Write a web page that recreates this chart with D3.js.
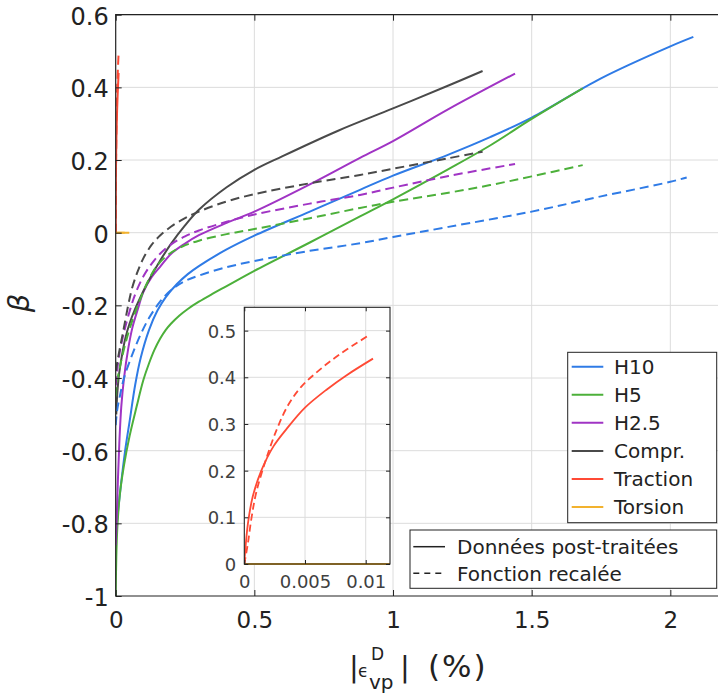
<!DOCTYPE html>
<html><head><meta charset="utf-8">
<script src="https://cdn.jsdelivr.net/npm/d3@7"></script>
<style>body{margin:0;background:#fff}svg{display:block}</style>
</head><body><svg id="c" width="718" height="695"></svg>
<script>
// ---------- tick values / labels ----------
const xTicks = [0, 0.5, 1, 1.5, 2];
const xTickLabels = ["0", "0.5", "1", "1.5", "2"];
const yTicks = [0.6, 0.4, 0.2, 0, -0.2, -0.4, -0.6, -0.8, -1];
const yTickLabels = ["0.6", "0.4", "0.2", "0", "-0.2", "-0.4", "-0.6", "-0.8", "-1"];
const insetXTicks = [0, 0.005, 0.01];
const insetXTickLabels = ["0", "0.005", "0.01"];
const insetYTicks = [0, 0.1, 0.2, 0.3, 0.4, 0.5];
const insetYTickLabels = ["0", "0.1", "0.2", "0.3", "0.4", "0.5"];

// ---------- legend ----------
const seriesNames = ["H10", "H5", "H2.5", "Compr.", "Traction", "Torsion"];
const seriesColors = ["#2f7be6", "#4cb03a", "#a034c4", "#4a4a4a", "#ff4a35", "#f2b22e"];
const styleNames = ["Données post-traitées", "Fonction recalée"];

// ---------- data: [|eps_vp^D| (%), beta] ----------
const h10Data = [[0,-0.83],[0.004,-0.8],[0.015,-0.72],[0.034,-0.6],[0.05,-0.52],[0.07,-0.42],[0.09,-0.345],[0.12,-0.268],[0.15,-0.215],[0.18,-0.178],[0.22,-0.142],[0.26,-0.114],[0.3,-0.092],[0.4,-0.046],[0.5,-0.008],[0.7,0.058],[0.881,0.118],[1.0,0.157],[1.2,0.215],[1.35,0.263],[1.5,0.317],[1.75,0.425],[2.0,0.513],[2.083,0.539]];
const h10Fit = [[0,-0.53],[0.005,-0.49],[0.015,-0.45],[0.03,-0.4],[0.06,-0.335],[0.09,-0.28],[0.12,-0.235],[0.16,-0.19],[0.2,-0.158],[0.25,-0.133],[0.3,-0.118],[0.4,-0.095],[0.5,-0.078],[0.7,-0.05],[0.881,-0.029],[1.0,-0.012],[1.2,0.016],[1.5,0.058],[1.75,0.1],[2.0,0.14],[2.059,0.152]];
const h5Data = [[0,-1.0],[0.002,-0.9],[0.006,-0.81],[0.015,-0.72],[0.03,-0.64],[0.05,-0.56],[0.075,-0.48],[0.1,-0.405],[0.12,-0.36],[0.14,-0.322],[0.16,-0.292],[0.18,-0.268],[0.2,-0.25],[0.23,-0.228],[0.26,-0.21],[0.3,-0.19],[0.35,-0.168],[0.4,-0.147],[0.5,-0.105],[0.7,-0.027],[0.881,0.045],[1.0,0.092],[1.2,0.175],[1.35,0.24],[1.5,0.313],[1.684,0.397]];
const h5Fit = [[0,-0.45],[0.005,-0.41],[0.015,-0.37],[0.03,-0.32],[0.05,-0.265],[0.07,-0.22],[0.09,-0.18],[0.12,-0.128],[0.15,-0.09],[0.19,-0.06],[0.24,-0.038],[0.3,-0.022],[0.4,-0.004],[0.5,0.01],[0.7,0.04],[0.881,0.068],[1.0,0.085],[1.2,0.11],[1.35,0.131],[1.5,0.155],[1.684,0.186]];
const h25Data = [[0,-0.86],[0.004,-0.78],[0.008,-0.68],[0.013,-0.58],[0.02,-0.48],[0.03,-0.4],[0.045,-0.32],[0.06,-0.262],[0.08,-0.21],[0.1,-0.163],[0.13,-0.122],[0.16,-0.094],[0.2,-0.058],[0.25,-0.03],[0.3,-0.007],[0.4,0.027],[0.5,0.058],[0.7,0.133],[0.881,0.206],[1.0,0.252],[1.2,0.34],[1.44,0.438]];
const h25Fit = [[0,-0.42],[0.005,-0.38],[0.012,-0.34],[0.025,-0.29],[0.045,-0.23],[0.07,-0.17],[0.1,-0.12],[0.13,-0.085],[0.16,-0.058],[0.2,-0.032],[0.25,-0.01],[0.3,0.006],[0.4,0.03],[0.5,0.05],[0.7,0.08],[0.881,0.104],[1.0,0.124],[1.2,0.156],[1.44,0.189]];
const comprData = [[0.002,-0.5],[0.006,-0.44],[0.012,-0.39],[0.022,-0.34],[0.035,-0.29],[0.05,-0.25],[0.07,-0.21],[0.09,-0.176],[0.12,-0.13],[0.16,-0.077],[0.2,-0.03],[0.25,0.02],[0.3,0.063],[0.4,0.125],[0.5,0.173],[0.6,0.21],[0.8,0.28],[1.0,0.342],[1.2,0.405],[1.323,0.445]];
const comprFit = [[0.001,-0.38],[0.005,-0.36],[0.012,-0.33],[0.025,-0.28],[0.045,-0.2],[0.06,-0.15],[0.08,-0.105],[0.1,-0.07],[0.13,-0.033],[0.16,-0.008],[0.2,0.017],[0.25,0.04],[0.3,0.058],[0.4,0.086],[0.5,0.106],[0.7,0.136],[0.881,0.159],[1.0,0.176],[1.2,0.205],[1.323,0.223]];
const tractionData = [[0,0],[0.00005,0.02],[0.0003,0.087],[0.0007,0.145],[0.0014,0.2],[0.0024,0.252],[0.0035,0.29],[0.005,0.335],[0.0068,0.374],[0.0084,0.404],[0.0106,0.44]];
const tractionFit = [[0,0],[0.0003,0.045],[0.0006,0.1],[0.001,0.155],[0.0018,0.225],[0.0027,0.29],[0.0036,0.34],[0.0047,0.38],[0.0062,0.416],[0.0079,0.45],[0.0102,0.489]];
const torsionData = [[0,0],[0.049,0]];
const torsionFit = [[0,0],[0.049,0]];

const dataSets = [h10Data, h5Data, h25Data, comprData, tractionData, torsionData];
const fitSets = [h10Fit, h5Fit, h25Fit, comprFit, tractionFit, torsionFit];

// ---------- layout ----------
const FONT = "DejaVu Sans";
const TXT = "#222222";
const GRID = "#dcdcdc";
const svg = d3.select("#c");
const L = 115.7, T = 14.7, B = 596, R = 725.8;
const x = d3.scaleLinear().domain([0, 2.2]).range([L, R]);
const y = d3.scaleLinear().domain([-1, 0.6]).range([B, T]);

svg.append("defs").append("clipPath").attr("id", "clipMain")
  .append("rect").attr("x", L).attr("y", T).attr("width", R - L).attr("height", B - T);

// grid
const g = svg.append("g");
g.selectAll(".gx").data(xTicks.slice(1)).enter().append("line")
  .attr("x1", d => x(d)).attr("x2", d => x(d)).attr("y1", T).attr("y2", B)
  .attr("stroke", GRID).attr("stroke-width", 1);
g.selectAll(".gy").data(yTicks.slice(0, -1)).enter().append("line")
  .attr("x1", L).attr("x2", R).attr("y1", d => y(d)).attr("y2", d => y(d))
  .attr("stroke", GRID).attr("stroke-width", 1);

// lines
const curve = d3.curveCatmullRom.alpha(0.5);
const line = d3.line().x(d => x(d[0])).y(d => y(d[1])).curve(curve);
const lg = svg.append("g").attr("clip-path", "url(#clipMain)");
dataSets.forEach((ds, i) => {
  lg.append("path").attr("d", line(ds)).attr("fill", "none")
    .attr("stroke", seriesColors[i]).attr("stroke-width", 2);
});
fitSets.forEach((ds, i) => {
  lg.append("path").attr("d", line(ds)).attr("fill", "none")
    .attr("stroke", seriesColors[i]).attr("stroke-width", 2).attr("stroke-dasharray", "9,5");
});

// axes
function styleAxis(sel) {
  sel.select(".domain").remove();
  sel.selectAll(".tick line").attr("stroke", TXT);
  sel.selectAll("text").attr("fill", TXT).attr("font-family", FONT);
}
const xAxis = svg.append("g").attr("transform", `translate(0,${B})`)
  .call(d3.axisBottom(x).tickValues(xTicks).tickFormat((d, i) => xTickLabels[i])
    .tickSizeInner(-6).tickSizeOuter(0).tickPadding(16));
styleAxis(xAxis); xAxis.selectAll("text").attr("font-size", 23);
const xTop = svg.append("g").attr("transform", `translate(0,${T})`)
  .call(d3.axisTop(x).tickValues(xTicks).tickFormat("").tickSizeInner(-6).tickSizeOuter(0));
styleAxis(xTop);
const yAxis = svg.append("g").attr("transform", `translate(${L},0)`)
  .call(d3.axisLeft(y).tickValues(yTicks).tickFormat((d, i) => yTickLabels[i])
    .tickSizeInner(-6).tickSizeOuter(0).tickPadding(7));
styleAxis(yAxis); yAxis.selectAll("text").attr("font-size", 24).attr("dy", "0.4em");

svg.append("path").attr("d", `M${R},${B}H${L}V${T}H${R}`).attr("fill", "none")
  .attr("stroke", TXT).attr("stroke-width", 1.2);

// axis labels
svg.append("text").attr("transform", "translate(29,303) rotate(-90)")
  .attr("text-anchor", "middle").attr("font-family", FONT).attr("font-style", "italic")
  .attr("font-size", 29).attr("fill", TXT).text("β");
const xl = svg.append("g").attr("font-family", FONT).attr("fill", TXT);
xl.append("text").attr("x", 349).attr("y", 677).attr("font-size", 29).text("|");
xl.append("text").attr("x", 358).attr("y", 677).attr("font-size", 17).text("ϵ");
xl.append("text").attr("x", 371).attr("y", 660).attr("font-size", 17).text("D");
xl.append("text").attr("x", 369).attr("y", 689).attr("font-size", 20).text("vp");
xl.append("text").attr("x", 400).attr("y", 677).attr("font-size", 29).text("|");
xl.append("text").attr("x", 428).attr("y", 677).attr("font-size", 31).attr("letter-spacing", 2).text("(%)");

// ---------- inset ----------
const iL = 244.3, iR = 390, iT = 307.3, iB = 564;
const ix = d3.scaleLinear().domain([0, 0.012]).range([iL, iR]);
const iy = d3.scaleLinear().domain([0, 0.55]).range([iB, iT]);
svg.select("defs").append("clipPath").attr("id", "clipInset")
  .append("rect").attr("x", iL).attr("y", iT - 1).attr("width", iR - iL).attr("height", iB - iT + 2);
svg.append("rect").attr("x", iL).attr("y", iT).attr("width", iR - iL).attr("height", iB - iT).attr("fill", "#fff");
const ig = svg.append("g");
ig.selectAll(".igx").data(insetXTicks.slice(1)).enter().append("line")
  .attr("x1", d => ix(d)).attr("x2", d => ix(d)).attr("y1", iT).attr("y2", iB).attr("stroke", GRID);
ig.selectAll(".igy").data(insetYTicks.slice(1)).enter().append("line")
  .attr("x1", iL).attr("x2", iR).attr("y1", d => iy(d)).attr("y2", d => iy(d)).attr("stroke", GRID);
const iline = d3.line().x(d => ix(d[0])).y(d => iy(d[1])).curve(curve);
const ilg = svg.append("g").attr("clip-path", "url(#clipInset)");
[4, 5].forEach(i => {
  ilg.append("path").attr("d", iline(dataSets[i])).attr("fill", "none")
    .attr("stroke", seriesColors[i]).attr("stroke-width", 1.8);
  ilg.append("path").attr("d", iline(fitSets[i])).attr("fill", "none")
    .attr("stroke", seriesColors[i]).attr("stroke-width", 1.8).attr("stroke-dasharray", "7,4");
});
const ixAxis = svg.append("g").attr("transform", `translate(0,${iB})`)
  .call(d3.axisBottom(ix).tickValues(insetXTicks).tickFormat((d, i) => insetXTickLabels[i])
    .tickSizeInner(-4).tickSizeOuter(0).tickPadding(11));
styleAxis(ixAxis); ixAxis.selectAll("text").attr("font-size", 18).attr("fill", "#404040");
const ixTop = svg.append("g").attr("transform", `translate(0,${iT})`)
  .call(d3.axisTop(ix).tickValues(insetXTicks).tickFormat("").tickSizeInner(-4).tickSizeOuter(0));
styleAxis(ixTop);
const iyAxis = svg.append("g").attr("transform", `translate(${iL},0)`)
  .call(d3.axisLeft(iy).tickValues(insetYTicks).tickFormat((d, i) => insetYTickLabels[i])
    .tickSizeInner(-4).tickSizeOuter(0).tickPadding(8));
styleAxis(iyAxis); iyAxis.selectAll("text").attr("font-size", 18).attr("fill", "#404040").attr("dy", "0.36em");
const iyRight = svg.append("g").attr("transform", `translate(${iR},0)`)
  .call(d3.axisRight(iy).tickValues(insetYTicks).tickFormat("").tickSizeInner(-4).tickSizeOuter(0));
styleAxis(iyRight);
svg.append("rect").attr("x", iL).attr("y", iT).attr("width", iR - iL).attr("height", iB - iT)
  .attr("fill", "none").attr("stroke", TXT).attr("stroke-width", 1.1);

// ---------- legend 1 ----------
const l1 = svg.append("g");
l1.append("rect").attr("x", 567.7).attr("y", 352.3).attr("width", 149).attr("height", 170.4)
  .attr("fill", "#fff").attr("stroke", TXT).attr("stroke-width", 1);
const rowY = d3.scalePoint().domain(seriesNames).range([366.7, 507]);
seriesNames.forEach((n, i) => {
  const yy = rowY(n);
  l1.append("line").attr("x1", 571.7).attr("x2", 603.3).attr("y1", yy).attr("y2", yy)
    .attr("stroke", seriesColors[i]).attr("stroke-width", 2);
  l1.append("text").attr("x", 614).attr("y", yy).attr("dy", "0.36em")
    .attr("font-family", FONT).attr("font-size", 20).attr("fill", TXT).text(n);
});

// ---------- legend 2 ----------
const l2 = svg.append("g");
l2.append("rect").attr("x", 410).attr("y", 530).attr("width", 306.7).attr("height", 58.3)
  .attr("fill", "#fff").attr("stroke", TXT).attr("stroke-width", 1);
const row2 = d3.scalePoint().domain(styleNames).range([546.7, 573.3]);
styleNames.forEach((n, i) => {
  const yy = row2(n);
  l2.append("line").attr("x1", 413.3).attr("x2", 445).attr("y1", yy).attr("y2", yy)
    .attr("stroke", TXT).attr("stroke-width", 1.5).attr("stroke-dasharray", i ? "6,5" : null);
  l2.append("text").attr("x", 457).attr("y", yy).attr("dy", "0.36em")
    .attr("font-family", FONT).attr("font-size", 20).attr("fill", TXT).text(n);
});
</script></body></html>
